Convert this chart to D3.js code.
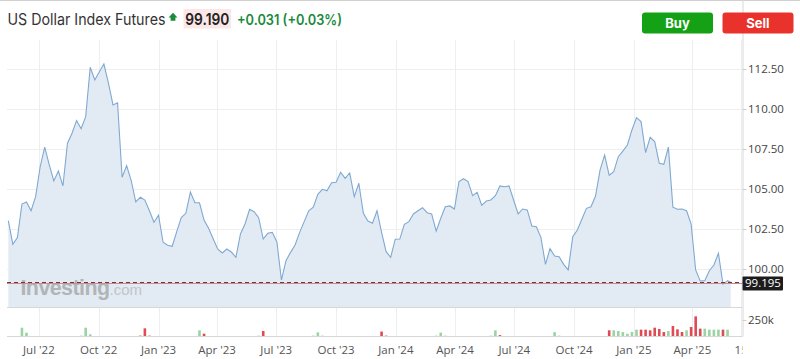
<!DOCTYPE html>
<html><head><meta charset="utf-8">
<script src="https://cdn.jsdelivr.net/npm/d3@7"></script>
<style>body{margin:0;background:#fff;}svg{display:block;font-family:Inter,"Noto Sans",sans-serif;}</style>
</head><body><svg id="c" width="800" height="359"></svg>
<script>
// ---- data ----
const startWeek = "2022-05-15";            // first weekly bar
const lastQuoteDate = "2025-05-30";        // current (partial week) quote
const closes = [
103.04,101.56,101.98,104.08,104.21,103.66,104.54,106.41,107.63,106.52,
105.52,106.14,105.21,107.88,108.50,109.29,108.79,109.54,112.63,111.83,
112.35,112.83,111.63,110.27,110.41,105.75,106.48,105.54,104.21,104.50,
104.33,103.66,102.94,103.38,101.69,101.50,101.44,102.35,103.23,103.50,
104.83,104.16,104.16,103.08,102.56,101.91,101.27,101.02,101.27,101.08,
100.75,102.21,102.83,103.75,103.60,103.23,101.89,102.25,102.31,101.71,
99.33,100.54,101.06,101.52,102.31,102.98,103.66,103.88,104.69,105.00,
104.91,105.41,105.44,106.06,105.69,106.02,104.54,105.38,103.50,103.02,
102.88,103.66,102.31,101.10,100.75,101.88,101.89,102.81,102.98,103.46,
103.66,103.85,103.54,103.46,102.39,103.19,103.91,103.96,103.77,105.48,
105.66,105.48,104.60,104.81,104.00,104.27,104.33,104.60,105.21,105.16,
105.21,104.33,103.46,103.77,103.71,102.71,102.66,102.00,100.31,101.29,
100.83,100.79,100.31,99.96,102.04,102.46,103.13,103.81,103.91,104.58,
106.21,107.14,105.88,106.10,107.04,107.39,107.77,108.71,109.48,109.23,
107.29,108.25,107.98,106.63,106.56,107.64,103.88,103.75,103.77,103.66,
102.83,99.96,99.27,99.29,99.91,100.27,101.00,99.06,99.29,99.19
];
const lastPrice = 99.195;
// volume (thousands) at bar index, with direction
const volIdx = [3,4,16,17,18,29,30,31,42,43,55,56,67,68,69,82,83,94,95,96,106,107,108,120,121,
132,133,134,135,136,137,138,139,140,141,142,143,144,145,146,147,148,149,150,151,152,153,154,155,156,157,158];
const volK = [130,52,6,130,26,6,120,6,89,36,6,78,6,57,6,70,6,6,52,6,6,89,14,60,6,
89,89,78,62,36,62,99,99,99,89,130,109,62,78,156,104,62,89,141,307,115,115,99,99,99,99,99];
const volUp = [1,1,1,1,1,0,0,0,1,0,1,0,1,1,1,0,0,1,1,1,1,1,0,1,1,
0,1,1,1,1,1,1,0,0,0,0,0,0,1,0,0,0,1,0,0,0,1,1,1,1,0,1];
const priceTicks = [100,102.5,105,107.5,110,112.5];
const timeTicks = ["2022-07-01","2022-10-01","2023-01-01","2023-04-01","2023-07-01","2023-10-01",
"2024-01-01","2024-04-01","2024-07-01","2024-10-01","2025-01-01","2025-04-01","2025-06-15"];
const timeLabels = ["Jul '22","Oct '22","Jan '23","Apr '23","Jul '23","Oct '23",
"Jan '24","Apr '24","Jul '24","Oct '24","Jan '25","Apr '25","15"];

// ---- build ----
const parse = d3.timeParse("%Y-%m-%d");
const t0 = parse(startWeek);
const dates = closes.map((_, i) => i < closes.length - 1 ? d3.timeWeek.offset(t0, i) : parse(lastQuoteDate));
const data = closes.map((v, i) => ({date: dates[i], v}));

const L = 7, R = 742.5, TOP = 40, PB = 307, VB = 336.5;
const svg = d3.select("#c");
const x = d3.scaleTime().domain([new Date(2022,4,13), new Date(2025,5,17)]).range([L, R]);
const y = d3.scaleLinear().domain([97.5, 112.5]).range([309.3, 69.3]);
const yv = d3.scaleLinear().domain([0, 250]).range([336, 320]);

svg.append("rect").attr("x",0).attr("y",0).attr("width",800).attr("height",1).attr("fill","#d0d0d0");

const defs = svg.append("defs");
defs.append("clipPath").attr("id","pc").append("rect").attr("x",L).attr("y",TOP).attr("width",R-L).attr("height",PB-TOP);
defs.append("clipPath").attr("id","xc").append("rect").attr("x",0).attr("y",336).attr("width",R).attr("height",23);

// grid
const gx = timeTicks.map(parse);
svg.append("g").selectAll("line").data(gx).join("line")
  .attr("x1",d=>Math.round(x(d))+0.5).attr("x2",d=>Math.round(x(d))+0.5)
  .attr("y1",TOP).attr("y2",VB).attr("stroke","#eeeeee");
svg.append("g").selectAll("line").data(priceTicks).join("line")
  .attr("x1",L).attr("x2",R).attr("y1",d=>Math.round(y(d))+0.5).attr("y2",d=>Math.round(y(d))+0.5)
  .attr("stroke","#eeeeee");

// area + line
const pg = svg.append("g").attr("clip-path","url(#pc)");
pg.append("path").datum(data)
  .attr("d", d3.area().x(d=>x(d.date)).y0(PB).y1(d=>y(d.v)))
  .attr("fill","#e2ebf4");
pg.append("path").datum(data)
  .attr("d", d3.line().x(d=>x(d.date)).y(d=>y(d.v)))
  .attr("fill","none").attr("stroke","#7fa9d2").attr("stroke-width",1.1);

// watermark
const wm = svg.append("text").attr("x",20.5).attr("y",295).attr("fill","#a3a3a3").attr("opacity",0.75)
  .style("font-family","Arial, 'Liberation Sans', sans-serif");
wm.append("tspan").text("Investing").attr("font-weight","bold").attr("font-size",21.5).attr("letter-spacing",-0.6);
wm.append("tspan").text(".com").attr("font-size",15).attr("fill","#b8b8b8");

// current price lines
svg.append("line").attr("x1",L).attr("x2",R).attr("y1",Math.round(y(closes[closes.length-1]))+1.5).attr("y2",Math.round(y(closes[closes.length-1]))+1.5)
  .attr("stroke","#e57f86").attr("stroke-width",1);
svg.append("line").attr("x1",L).attr("x2",R).attr("y1",Math.round(y(lastPrice))+0.5).attr("y2",Math.round(y(lastPrice))+0.5)
  .attr("stroke","#4a4a4a").attr("stroke-width",1).attr("stroke-dasharray","4,3");

// borders
svg.append("line").attr("x1",L).attr("x2",R).attr("y1",PB+0.5).attr("y2",PB+0.5).attr("stroke","#d8d8d8");
svg.append("line").attr("x1",L).attr("x2",R).attr("y1",VB).attr("y2",VB).attr("stroke","#d8d8d8");
svg.append("line").attr("x1",R+0.5).attr("x2",R+0.5).attr("y1",0).attr("y2",VB).attr("stroke","#d8d8d8");

// volume
svg.append("g").selectAll("rect").data(volIdx).join("rect")
  .attr("x",(d)=>x(dates[d])-1.3).attr("width",2.6)
  .attr("y",(d,i)=>yv(volK[i])).attr("height",(d,i)=>336-yv(volK[i]))
  .attr("fill",(d,i)=>volUp[i] ? "#9bd3a3" : "#df4b55");

// right axis
const ra = svg.append("g").attr("font-size",11.5).attr("fill","#444");
ra.selectAll("line").data(priceTicks).join("line")
  .attr("x1",R).attr("x2",R+4).attr("y1",d=>Math.round(y(d))+0.5).attr("y2",d=>Math.round(y(d))+0.5).attr("stroke","#cfcfcf");
ra.selectAll("text").data(priceTicks).join("text")
  .attr("x",748).attr("y",d=>y(d)+3.5).text(d=>d3.format(".2f")(d))
  .style("font-family","'Open Sans','Noto Sans',sans-serif").attr("fill","#444");
svg.append("line").attr("x1",R).attr("x2",R+4).attr("y1",320.5).attr("y2",320.5).attr("stroke","#cfcfcf");
svg.append("text").attr("x",748).attr("y",yv(250)+4).text("250k").attr("font-size",11.5).attr("fill","#444")
  .style("font-family","'Open Sans','Noto Sans',sans-serif");

// price label
svg.append("rect").attr("x",R).attr("y",y(lastPrice)-5.7).attr("width",40.5).attr("height",14).attr("fill","#1c1c1c").attr("rx",1);
svg.append("text").attr("x",R+20.5).attr("y",y(lastPrice)+5.2).attr("text-anchor","middle")
  .attr("fill","#fff").attr("font-size",11.5).style("font-family","'Open Sans','Noto Sans',sans-serif")
  .text(d3.format(".3f")(lastPrice));

// bottom axis labels
svg.append("g").attr("clip-path","url(#xc)").selectAll("text").data(gx).join("text")
  .attr("x",d=>x(d)).attr("y",353.5).attr("text-anchor","middle").attr("font-size",11.5).attr("fill","#555")
  .style("font-family","'Open Sans','Noto Sans',sans-serif")
  .text((d,i)=>timeLabels[i]);

// header
svg.append("text").attr("x",7.5).attr("y",25).attr("font-size",16).attr("fill","#333")
  .attr("textLength",158).attr("lengthAdjust","spacingAndGlyphs").text("US Dollar Index Futures");
svg.append("path").attr("d","M173,12.8 L177.4,17.4 L175.4,17.4 L175.4,20.8 L170.6,20.8 L170.6,17.4 L168.6,17.4 Z").attr("fill","#1b8a3c");
svg.append("rect").attr("x",183.5).attr("y",9).attr("width",47.5).attr("height",19.5).attr("fill","#fbe7e7");
svg.append("text").attr("x",207.3).attr("y",25).attr("text-anchor","middle").attr("font-size",16.5).attr("font-weight",600)
  .attr("fill","#222").attr("textLength",44).attr("lengthAdjust","spacingAndGlyphs").text("99.190");
svg.append("text").attr("x",237).attr("y",25).attr("font-size",14.5).attr("font-weight",600)
  .attr("fill","#178a3c").attr("textLength",105).attr("lengthAdjust","spacingAndGlyphs").text("+0.031 (+0.03%)");

svg.append("rect").attr("x",642).attr("y",12.5).attr("width",71).attr("height",21).attr("rx",3).attr("fill","#14a115");
svg.append("text").attr("x",677.5).attr("y",27.5).attr("text-anchor","middle").attr("font-size",13).attr("font-weight",700)
  .attr("fill","#fff").text("Buy");
svg.append("rect").attr("x",722.5).attr("y",12.5).attr("width",71).attr("height",21).attr("rx",3).attr("fill","#e8322b");
svg.append("text").attr("x",758).attr("y",27.5).attr("text-anchor","middle").attr("font-size",13).attr("font-weight",700)
  .attr("fill","#fff").text("Sell");
</script></body></html>
